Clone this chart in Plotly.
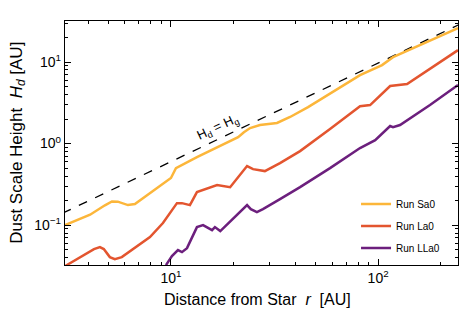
import plotly.graph_objects as go
import numpy as np

# ---- data ----
r_gas = [3.0, 250.0]
h_gas = [0.140, 29.4]

r_sa0 = [3.08, 4.07, 4.8, 5.19, 5.54, 5.9, 6.20, 6.70, 7.92, 10.0, 10.57, 13.35, 21.1, 22.5, 24.1, 26.9, 32.5, 37.6, 45.9, 81.8, 104.5, 118.0, 243.0]
h_sa0 = [0.100, 0.134, 0.175, 0.195, 0.194, 0.183, 0.176, 0.181, 0.247, 0.378, 0.500, 0.682, 1.20, 1.38, 1.55, 1.69, 1.79, 2.12, 2.80, 6.92, 9.18, 11.5, 26.1]

r_la0 = [3.08, 4.25, 4.54, 4.74, 5.07, 5.36, 5.79, 7.92, 9.15, 10.69, 11.30, 12.35, 13.35, 16.7, 19.3, 23.3, 24.9, 28.4, 33.6, 42.0, 58.6, 81.8, 91.5, 114.3, 138.0, 243.0]
h_la0 = [0.0314, 0.0508, 0.0537, 0.0508, 0.0405, 0.0383, 0.0405, 0.0713, 0.106, 0.186, 0.186, 0.176, 0.254, 0.310, 0.292, 0.530, 0.486, 0.460, 0.577, 0.809, 1.51, 2.88, 2.97, 5.08, 5.37, 14.0]

r_lla0 = [9.46, 10.11, 10.81, 11.30, 11.95, 13.35, 14.29, 15.79, 16.3, 17.3, 23.3, 24.3, 26.0, 27.8, 33.6, 42.0, 58.6, 81.8, 96.8, 114.3, 118.0, 127.6, 178.0, 243.0]
h_lla0 = [0.0323, 0.0417, 0.0493, 0.0466, 0.0522, 0.0945, 0.100, 0.0868, 0.0945, 0.0844, 0.176, 0.157, 0.144, 0.157, 0.208, 0.292, 0.500, 0.881, 1.10, 1.64, 1.59, 1.69, 2.97, 5.22]

names = ["Run Sa0", "Run La0", "Run LLa0"]
colors = ["#fcb63a", "#e3552f", "#6c1f7d"]

x_major = [10, 100]
x_major_text = ["10<sup>1</sup>", "10<sup>2</sup>"]
y_major = [0.1, 1, 10]
y_major_text = ["10<sup>−1</sup>", "10<sup>0</sup>", "10<sup>1</sup>"]

FONT = "Liberation Sans, Arial, Helvetica, sans-serif"

fig = go.Figure()
fig.add_trace(go.Scatter(x=r_gas, y=h_gas, mode="lines", showlegend=False,
                         line=dict(color="black", width=1.3, dash="dash")))
for i, (rx, hy) in enumerate([(r_sa0, h_sa0), (r_la0, h_la0), (r_lla0, h_lla0)]):
    fig.add_trace(go.Scatter(x=rx, y=hy, mode="lines", name=names[i],
                             legendgroup=names[i],
                             line=dict(color=colors[i], width=2.5)))

minor_x = [m * 10 ** k for k in range(0, 3) for m in range(2, 10)]
minor_y = [m * 10 ** k for k in range(-2, 2) for m in range(2, 10)]

axis_common = dict(showline=True, linecolor="black", linewidth=1.3, mirror="ticks",
                   ticks="inside", ticklen=6, tickwidth=1.2, tickcolor="black",
                   showgrid=False, zeroline=False, automargin=False,
                   tickfont=dict(family=FONT, size=14, color="black"))

fig.update_xaxes(type="log", range=[np.log10(3.08), np.log10(243)],
                 tickmode="array", tickvals=x_major, ticktext=x_major_text,
                 minor=dict(tickmode="array", tickvals=minor_x, ticks="inside", ticklen=3,
                            tickwidth=1, tickcolor="black", showgrid=False),
                 **axis_common)
fig.update_yaxes(type="log", range=[np.log10(0.0324), np.log10(31.9)],
                 tickmode="array", tickvals=y_major, ticktext=y_major_text,
                 minor=dict(tickmode="array", tickvals=minor_y, ticks="inside", ticklen=3,
                            tickwidth=1, tickcolor="black", showgrid=False),
                 **axis_common)

fig.add_annotation(x=0.49, y=-0.143, xref="paper", yref="paper",
                   text="Distance from Star  <i>r</i>  [AU]", showarrow=False,
                   xanchor="center", yanchor="middle",
                   font=dict(family=FONT, size=16, color="black"))
fig.add_annotation(x=-0.12, y=0.5, xref="paper", yref="paper",
                   text="Dust Scale Height  <i>H<sub>d</sub></i> [AU]", showarrow=False,
                   xanchor="center", yanchor="middle", textangle=-90,
                   font=dict(family=FONT, size=17, color="black"))

fig.add_annotation(x=1.227, y=0.195, xref="x", yref="y",
                   text="H<sub>d</sub> = H<sub>g</sub>", showarrow=False, textangle=-25,
                   font=dict(family=FONT, size=13, color="black"))

fig.update_layout(
    width=463, height=315,
    margin=dict(l=65, r=5, t=21, b=50, autoexpand=False),
    plot_bgcolor="white", paper_bgcolor="white",
    font=dict(family=FONT, color="black"),
    legend=dict(x=0.967, xanchor="right", y=0.01, yanchor="bottom",
                bgcolor="rgba(0,0,0,0)", borderwidth=0,
                font=dict(family=FONT, size=10, color="black"),
                tracegroupgap=3, itemwidth=30),
)

fig.write_html("out.html", config={"displayModeBar": False},
               post_script="document.body.style.margin='0px';document.body.style.overflow='hidden';")
